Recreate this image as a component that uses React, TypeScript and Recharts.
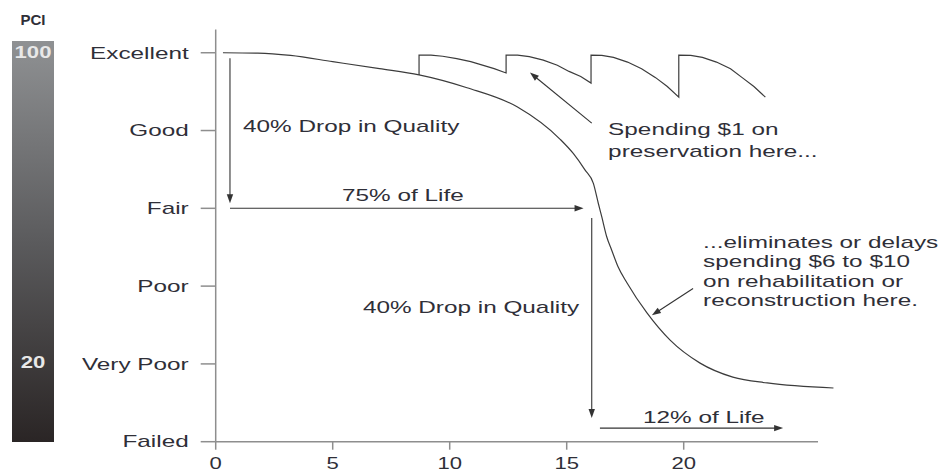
import React from 'react';
import { ComposedChart, Line, XAxis, YAxis, ReferenceLine, ReferenceDot } from 'recharts';

// ---- data ----
const conditionTicks = [0, 20, 40, 60, 80, 100];
const conditionLabels = ['Failed', 'Very Poor', 'Poor', 'Fair', 'Good', 'Excellent'];
const yearTicks = [0, 5, 10, 15, 20];

// main deterioration curve (years, PCI)
const mainYears = [0.31, 1.8, 3.2, 5.0, 7.0, 8.69, 10.74, 12.88, 14.71, 15.28, 15.78, 16.14, 16.35, 16.5, 16.71, 16.92, 17.2, 17.58, 18.43, 19.42, 20.7, 22.1, 23.57, 26.4];
const mainPCI = [100, 99.9, 99.3, 97.7, 95.9, 94.3, 91.0, 86.1, 77.8, 74.1, 69.9, 66.4, 61.3, 57.8, 52.7, 49.3, 44.9, 40.8, 33.1, 26.1, 20.2, 16.6, 15.1, 13.8];

// preservation sawtooth (years, PCI)
const presYears = [
  8.69, 8.69, 9.2, 9.7, 10.3, 10.9, 11.4, 11.9, 12.41,
  12.41, 12.9, 13.4, 14.0, 14.6, 15.1, 15.6, 16.04,
  16.04, 16.5, 17.0, 17.6, 18.2, 18.8, 19.3, 19.79,
  19.79, 20.3, 20.8, 21.4, 22.0, 22.5, 23.0, 23.49,
];
const presPCI = [
  94.3, 99.4, 99.4, 99.1, 98.5, 97.7, 96.8, 95.9, 94.8,
  99.4, 99.4, 99.0, 98.1, 96.8, 95.2, 93.9, 92.2,
  99.4, 99.3, 98.8, 97.6, 95.9, 93.6, 91.3, 88.6,
  99.4, 99.3, 98.8, 97.6, 95.9, 93.6, 91.3, 88.6,
];

// annotation arrows: [x1, y1, x2, y2] in (years, PCI)
const arrowDropTop = [0.61, 98.6, 0.61, 61.3];
const arrowLife75 = [0.61, 60, 15.72, 60];
const arrowDropBottom = [16.07, 57.5, 16.07, 6.1];
const arrowLife12 = [16.42, 3.5, 24.25, 3.5];
const arrowSpending = [16.07, 81.9, 13.43, 94.9];
const arrowEliminates = [20.4, 39.4, 18.64, 32.5];

// annotation texts: anchor (years, PCI) of left edge / first line centre
const noteDropTop = { t: 1.17, v: 81.2, lines: ['40% Drop in Quality'] };
const noteLife75 = { t: 5.4, v: 63.4, lines: ['75% of Life'] };
const noteDropBottom = { t: 6.29, v: 34.6, lines: ['40% Drop in Quality'] };
const noteLife12 = { t: 18.26, v: 6.4, lines: ['12% of Life'] };
const noteSpending = { t: 16.77, v: 80.4, lines: ['Spending $1 on', 'preservation here...'] };
const noteEliminates = {
  t: 20.83,
  v: 51.4,
  lines: ['...eliminates or delays', 'spending $6 to $10', 'on rehabilitation or', 'reconstruction here.'],
};

const xAxisEnd = 25.74;

// ---- build series ----
const mainData = mainYears.map((t, i) => ({ t, v: mainPCI[i] }));
const presData = presYears.map((t, i) => ({ t, v: presPCI[i] }));

const FONT = '"Liberation Sans", Arial, Helvetica, sans-serif';
const TEXT = '#2f2f38';
const AXIS = '#8e8e8e';
const STRETCH = 1.52;

const arrowShape = (p: any) => {
  const { x1, y1, x2, y2 } = p;
  const dx = x2 - x1;
  const dy = y2 - y1;
  const len = Math.hypot(dx, dy) || 1;
  const ux = dx / len;
  const uy = dy / len;
  const L = 9;
  const W = 3.2;
  const bx = x2 - ux * L;
  const by = y2 - uy * L;
  const pts = `${x2},${y2} ${bx - uy * W},${by + ux * W} ${bx + uy * W},${by - ux * W}`;
  return (
    <g>
      <line x1={x1} y1={y1} x2={bx + ux * 2} y2={by + uy * 2} stroke="#333" strokeWidth={1.1} />
      <polygon points={pts} fill="#333" />
    </g>
  );
};

const noteShape = (lines: string[], gap: number) => (p: any) => (
  <g transform={`translate(${p.cx},${p.cy}) scale(${STRETCH},1)`}>
    <text x={0} y={0} fontFamily={FONT} fontSize={16} fill={TEXT}>
      {lines.map((l, i) => (
        <tspan key={i} x={0} dy={i === 0 ? '0.36em' : gap}>
          {l}
        </tspan>
      ))}
    </text>
  </g>
);

const YTick = (p: any) => {
  const idx = conditionTicks.indexOf(p.payload.value);
  return (
    <g transform={`translate(${p.x},${p.y}) scale(${STRETCH},1)`}>
      <text x={0} y={0} dy="0.36em" textAnchor="end" fontFamily={FONT} fontSize={16} fill={TEXT}>
        {conditionLabels[idx]}
      </text>
    </g>
  );
};

const XTick = (p: any) => (
  <g transform={`translate(${p.x},${p.y}) scale(1.3,1)`}>
    <text x={0} y={0} dy={15.6} textAnchor="middle" fontFamily={FONT} fontSize={17} fill={TEXT}>
      {p.payload.value}
    </text>
  </g>
);

const seg = (a: number[]) => [
  { x: a[0], y: a[1] },
  { x: a[2], y: a[3] },
];

const PciBar = () => (
  <svg width={70} height={472} style={{ position: 'absolute', left: 0, top: 0 }}>
    <defs>
      <linearGradient id="pciGrad" x1="0" y1="0" x2="0" y2="1">
        <stop offset="0" stopColor="#8f9193" />
        <stop offset="0.5" stopColor="#5b5b5d" />
        <stop offset="1" stopColor="#2a2525" />
      </linearGradient>
    </defs>
    <rect x={12} y={41} width={42} height={401} fill="url(#pciGrad)" />
    <text x={33} y={20} dy="0.36em" textAnchor="middle" fontFamily={FONT} fontWeight="bold" fontSize={15} fill={TEXT}>
      PCI
    </text>
    <g transform="translate(33,52.7) scale(1.38,1)">
      <text x={0} y={0} dy="0.36em" textAnchor="middle" fontFamily={FONT} fontWeight="bold" fontSize={16} fill="#e8e8e8">
        100
      </text>
    </g>
    <g transform="translate(33,362) scale(1.38,1)">
      <text x={0} y={0} dy="0.36em" textAnchor="middle" fontFamily={FONT} fontWeight="bold" fontSize={16} fill="#e8e8e8">
        20
      </text>
    </g>
  </svg>
);

export default function App() {
  const notes = [
    { n: noteDropTop, gap: 0 },
    { n: noteLife75, gap: 0 },
    { n: noteDropBottom, gap: 0 },
    { n: noteLife12, gap: 0 },
    { n: noteSpending, gap: 22 },
    { n: noteEliminates, gap: 19.5 },
  ];
  const arrows = [arrowDropTop, arrowLife75, arrowDropBottom, arrowLife12, arrowSpending, arrowEliminates];
  return (
    <div style={{ position: 'absolute', left: 0, top: 0, width: 945, height: 472, background: '#fff' }}>
      <ComposedChart width={945} height={472} margin={{ top: 29.4, right: 97.5, bottom: 0, left: 0 }}>
        <XAxis
          type="number"
          dataKey="t"
          domain={[0, 27]}
          allowDataOverflow
          ticks={yearTicks}
          axisLine={false}
          tickLine={{ stroke: AXIS, strokeWidth: 1.5 }}
          tickSize={8}
          tickMargin={4}
          height={30.3}
          tick={<XTick />}
          interval={0}
        />
        <YAxis
          type="number"
          dataKey="v"
          domain={[0, 106]}
          allowDataOverflow
          ticks={conditionTicks}
          axisLine={{ stroke: AXIS, strokeWidth: 1.5 }}
          tickLine={{ stroke: AXIS, strokeWidth: 1.5 }}
          tickSize={15}
          tickMargin={12}
          width={215.7}
          tick={<YTick />}
          interval={0}
        />
        <ReferenceLine
          segment={[
            { x: 0, y: 0 },
            { x: xAxisEnd, y: 0 },
          ]}
          stroke={AXIS}
          strokeWidth={1.5}
          ifOverflow="visible"
        />
        <Line
          data={mainData}
          dataKey="v"
          type="monotone"
          stroke="#3c3c3c"
          strokeWidth={1.2}
          dot={false}
          activeDot={false}
          isAnimationActive={false}
        />
        <Line
          data={presData}
          dataKey="v"
          type="linear"
          stroke="#3c3c3c"
          strokeWidth={1.2}
          dot={false}
          activeDot={false}
          isAnimationActive={false}
        />
        {arrows.map((a, i) => (
          <ReferenceLine key={`a${i}`} segment={seg(a)} ifOverflow="visible" shape={arrowShape} />
        ))}
        {notes.map(({ n, gap }, i) => (
          <ReferenceDot key={`n${i}`} x={n.t} y={n.v} ifOverflow="visible" shape={noteShape(n.lines, gap)} />
        ))}
      </ComposedChart>
      <PciBar />
    </div>
  );
}
